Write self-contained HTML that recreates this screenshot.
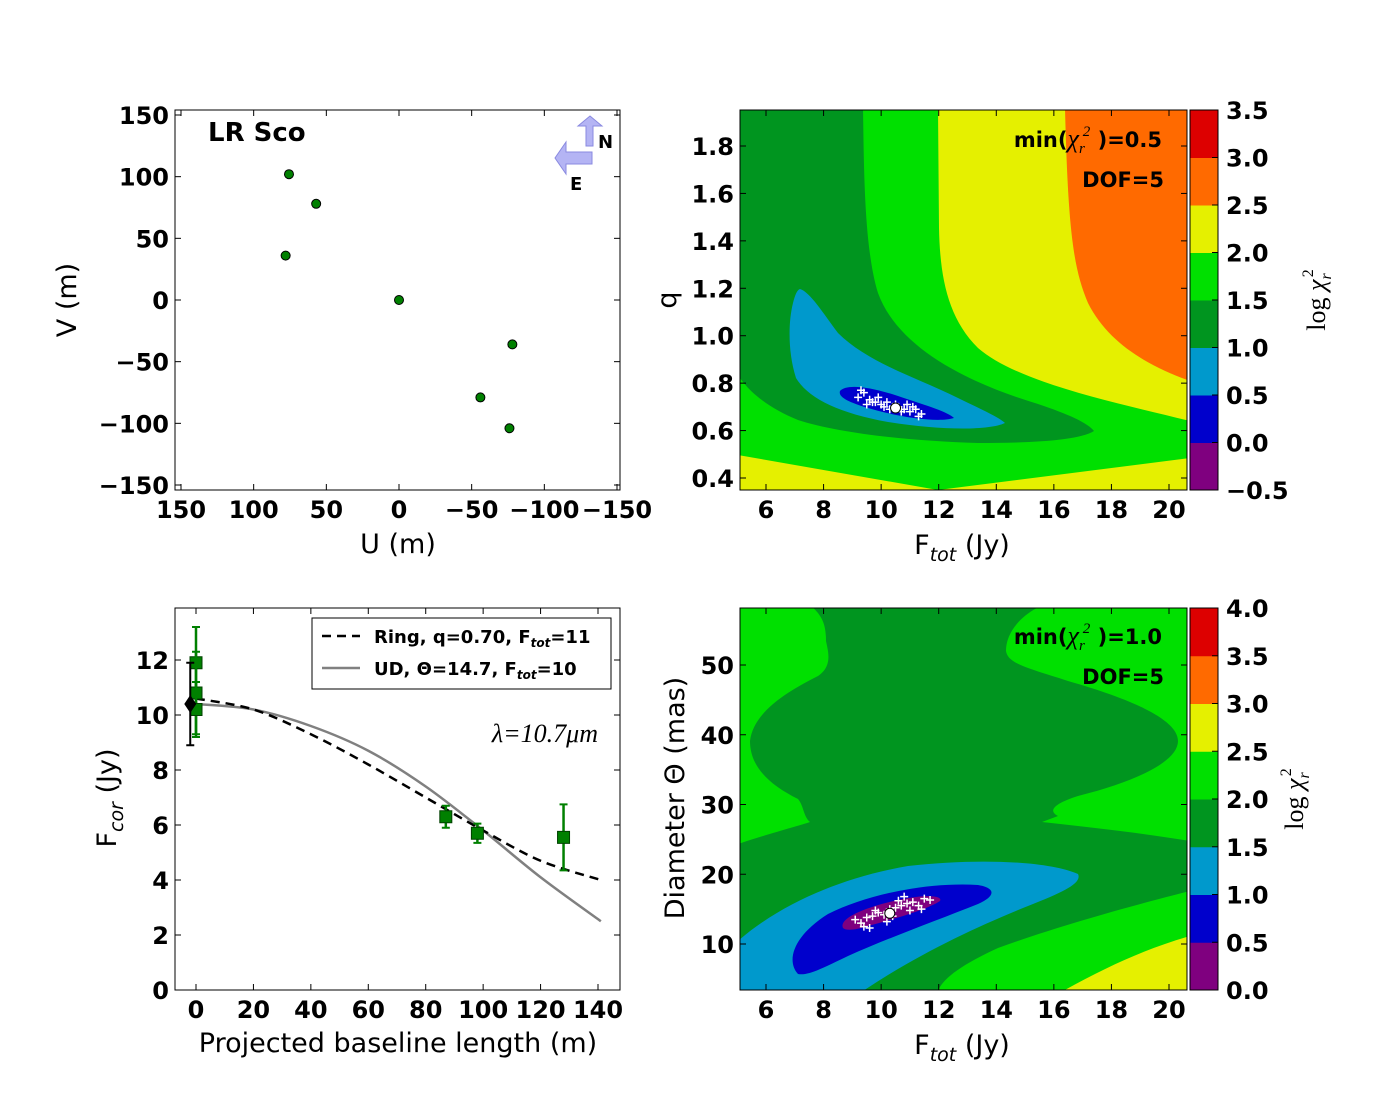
<!DOCTYPE html>
<html><head><meta charset="utf-8"><style>
body{margin:0;background:#fff}
svg text{font-family:"DejaVu Sans","Liberation Sans",sans-serif}
.tk{font-weight:bold;font-size:24px}
.lab{font-size:27px}
.serif{font-family:"Liberation Serif",serif !important}
</style></head><body>
<svg id="fig" width="1400" height="1100" xmlns="http://www.w3.org/2000/svg">
<defs>
<clipPath id="c2"><rect x="2" y="2" width="447" height="380"/></clipPath>
<clipPath id="c4"><rect x="2" y="2" width="447" height="382"/></clipPath>
<clipPath id="c3"><rect x="175" y="608" width="445" height="382"/></clipPath>
</defs>
<g transform="translate(738,108)" clip-path="url(#c2)">
<rect x="0" y="0" width="452" height="385" fill="#00e000"/>
<path fill="#e5f000" d="M200,0 L452,0 L452,313 C380,295 280,275 240,240 C210,210 202,170 201,120 Z"/>
<path fill="#ff6a00" d="M327,0 L452,0 L452,273 C410,258 370,235 350,195 C335,160 330,120 327,0 Z"/>
<path fill="#e5f000" d="M0,347 L200,382 L452,350 L452,385 L0,385 Z"/>
<path fill="#00951f" d="M0,0 L125,0 C126,60 126,140 140,185 C160,240 230,275 300,296 C330,306 350,315 356,323 C340,333 290,335 240,335 C170,333 100,325 60,312 C30,300 10,283 0,267 Z"/>
<path fill="#0099cc" d="M62,181 C72,184 85,205 100,225 C130,255 180,270 220,290 C245,302 262,310 267,315 C250,323 200,322 150,314 C100,305 70,290 58,270 C50,245 50,215 55,195 C57,187 59,182 62,181 Z"/>
<path fill="#0000cc" d="M102,283 C108,276 130,278 160,288 C190,298 210,304 216,310 C200,315 160,309 130,300 C110,294 100,289 102,283 Z"/>
</g>
<g transform="translate(738,606)" clip-path="url(#c4)">
<rect x="0" y="0" width="452" height="385" fill="#00e000"/>
<path fill="#00951f" d="M73,0 L303,0 C285,8 268,25 268,45 C270,58 290,62 330,75 C400,95 440,115 440,135 C440,155 400,175 340,190 C315,198 310,205 320,210 L304,216 C360,222 410,228 452,235 L452,285 C400,298 320,320 260,342 C225,358 205,372 200,385 L0,385 L0,238 C30,228 60,220 72,216 C65,210 66,200 60,193 C30,178 12,160 12,135 C15,110 40,90 80,70 C95,60 90,45 88,35 C88,20 85,10 73,0 Z"/>
<path fill="#e5f000" d="M452,330 C410,342 370,360 325,385 L452,385 Z"/>
<path fill="#0099cc" d="M0,335 C40,300 100,272 170,260 C240,252 310,255 340,268 C345,278 320,288 290,300 C240,320 180,348 125,385 L0,385 Z"/>
<path fill="#0000cc" d="M60,368 C48,355 55,330 90,308 C130,288 190,276 240,279 C258,282 258,290 240,298 C200,314 150,332 110,350 C85,362 70,370 60,368 Z"/>
<path fill="#7f007f" d="M105,322 C100,312 130,300 165,293 C190,288 205,290 202,295 C190,303 160,312 130,320 C118,324 108,325 105,322 Z"/>
</g>
<g id="dyn"></g>
</svg>
<script>
// ---- data ----
const uvU=[75.7,57,78,0,-78,-56,-76];
const uvV=[102,78,36,0,-36,-79,-104];
const baseM=[0,0,0,87,98,128];
const fcor=[11.9,10.8,10.2,6.3,5.7,5.55];
const fcorErr=[1.3,1.5,1.0,0.4,0.35,1.2];
const diamondM=[-2]; const diamondF=[10.4]; const diamondErr=[1.5];
const curveB=[0,20,40,60,80,100,120,141];
const ringF=[10.6,10.2,9.3,8.2,7.0,5.8,4.7,4.0];
const udF=[10.4,10.2,9.6,8.7,7.4,5.8,4.1,2.5];
const q_F=[9.2,9.4,9.6,9.8,10.0,10.2,10.4,10.6,10.8,11.0,11.2,11.4,9.5,9.9,10.3,10.7,11.1,9.3,10.1,10.9,11.3,9.7,10.5];
const q_q=[0.74,0.76,0.73,0.72,0.71,0.72,0.70,0.70,0.69,0.68,0.69,0.67,0.71,0.74,0.69,0.68,0.70,0.77,0.70,0.71,0.66,0.72,0.71];
const q_best=[10.5,0.695];
const d_F=[9.1,9.3,9.5,9.7,9.9,10.1,10.3,10.5,10.7,10.9,11.1,11.3,11.5,11.7,9.4,9.8,10.2,10.6,11.0,11.4,9.6,10.4,10.8];
const d_D=[13.5,13.0,13.8,14.0,14.5,14.2,15.0,15.2,15.5,15.8,16.0,15.5,16.5,16.3,12.5,14.8,13.2,16.2,14.8,15.0,12.3,14.0,16.8];
const d_best=[10.3,14.4];
const cbLevels1=["−0.5","0.0","0.5","1.0","1.5","2.0","2.5","3.0","3.5"];
const cbLevels2=["0.0","0.5","1.0","1.5","2.0","2.5","3.0","3.5","4.0"];
const cbColors=["#7f007f","#0000cc","#0099cc","#00951f","#00e000","#e5f000","#ff6a00","#dd0000"];
const uTicks=[150,100,50,0,-50,-100,-150];
const vTicks=[150,100,50,0,-50,-100,-150];
const fTicks=[6,8,10,12,14,16,18,20];
const qTicks=[0.4,0.6,0.8,1.0,1.2,1.4,1.6,1.8];
const bTicks=[0,20,40,60,80,100,120,140];
const fcTicks=[0,2,4,6,8,10,12];
const dTicks=[10,20,30,40,50];

const NS="http://www.w3.org/2000/svg";
const root=document.getElementById('dyn');
function mk(tag,attrs,parent,txt){const e=document.createElementNS(NS,tag);for(const k in attrs)e.setAttribute(k,attrs[k]);if(txt!==undefined)e.textContent=txt;(parent||root).appendChild(e);return e;}
function lin(d0,d1,p0,p1){return v=>p0+(v-d0)*(p1-p0)/(d1-d0);}
const fmt=v=>(v<0?"−"+Math.abs(v):String(v));

const P1={x0:175,x1:620,y0:110,y1:490};
const x1s=lin(150,-150,181,617), y1s=lin(0,150,300,115);
const P2={x0:740,x1:1187,y0:110,y1:490};
const x2s=lin(6,20,766,1169), y2s=lin(1.8,0.4,146,478);
const P3={x0:175,x1:620,y0:608,y1:990};
const x3s=lin(0,140,196,598), y3s=lin(0,12,990,660);
const P4={x0:740,x1:1187,y0:608,y1:990};
const x4s=x2s, y4s=lin(10,50,944,665);

function frame(P,xt,xs,yt,ys,fx,fy,name){
  const g=mk('g',{});
  
  
  mk('rect',{x:P.x0,y:P.y0,width:P.x1-P.x0,height:P.y1-P.y0,fill:'none',stroke:'#000','stroke-width':1},g);
  xt.forEach(v=>{const x=xs(v);
    mk('line',{x1:x,x2:x,y1:P.y1,y2:P.y1-6,stroke:'#000'},g);
    mk('line',{x1:x,x2:x,y1:P.y0,y2:P.y0+6,stroke:'#000'},g);
    const t=mk('text',{x:x,y:P.y1+28,'text-anchor':'middle',class:'tk'},g,fx(v));
    
    });
  yt.forEach(v=>{const y=ys(v);
    mk('line',{x1:P.x0,x2:P.x0+6,y1:y,y2:y,stroke:'#000'},g);
    mk('line',{x1:P.x1,x2:P.x1-6,y1:y,y2:y,stroke:'#000'},g);
    const t=mk('text',{x:P.x0-6,y:y+9,'text-anchor':'end',class:'tk'},g,fy(v));
    
    });
}
frame(P1,uTicks,x1s,vTicks,y1s,fmt,fmt,'uv-plane');
frame(P2,fTicks,x2s,qTicks,y2s,String,v=>v.toFixed(1),'q-map');
frame(P3,bTicks,x3s,fcTicks,y3s,String,String,'visibility');
frame(P4,fTicks,x4s,dTicks,y4s,String,String,'diameter-map');

function label(x,y,txt,rot,name,cls){const t=mk('text',{x:x,y:y,'text-anchor':'middle',class:cls||'lab',transform:rot?`rotate(-90 ${x} ${y})`:''});t.innerHTML=txt;
  
  return t;}
label(398,553,'U (m)',0,'x-axis-title');
label(76,300,'V (m)',1,'y-axis-title');
label(962,554,'F<tspan font-size="19" font-style="italic" dy="7">tot</tspan><tspan dy="-7"> (Jy)</tspan>',0,'x-axis-title');
label(676,300,'q',1,'y-axis-title');
label(398,1052,'Projected baseline length (m)',0,'x-axis-title');
label(116,798,'F<tspan font-size="19" font-style="italic" dy="7">cor</tspan><tspan dy="-7"> (Jy)</tspan>',1,'y-axis-title');
label(962,1054,'F<tspan font-size="19" font-style="italic" dy="7">tot</tspan><tspan dy="-7"> (Jy)</tspan>',0,'x-axis-title');
label(684,798,'Diameter Θ (mas)',1,'y-axis-title');
const t0=mk('text',{x:208,y:141,'font-size':26,'font-weight':'bold'},root,'LR Sco');



uvU.forEach((u,i)=>{const c=mk('circle',{cx:x1s(u),cy:y1s(uvV[i]),r:4.5,fill:'#008000',stroke:'#000','stroke-width':1});
  
  });
const cg=mk('g',{fill:'#b4b4f4',stroke:'#8a8ae0','stroke-width':1});


mk('path',{d:'M586,146 L586,126 L578,126 L590,116 L602,126 L593,126 L593,146 Z'},cg);
mk('path',{d:'M592,152 L566,152 L566,142 L555,158 L566,174 L566,164 L592,164 Z'},cg);
mk('text',{x:598,y:148,'font-size':18,'font-weight':'bold',fill:'#000',stroke:'none'},cg,'N');
mk('text',{x:570,y:190,'font-size':18,'font-weight':'bold',fill:'#000',stroke:'none'},cg,'E');

function crosses(Fa,Ya,xs,ys,name){Fa.forEach((f,i)=>{const x=xs(f),y=ys(Ya[i]);
  const p=mk('path',{d:`M${x-4},${y}h8M${x},${y-4}v8`,stroke:'#fff','stroke-width':1.5});
  
  });}
crosses(q_F,q_q,x2s,y2s,'mc-sample');
crosses(d_F,d_D,x4s,y4s,'mc-sample');
let bc=mk('circle',{cx:x2s(q_best[0]),cy:y2s(q_best[1]),r:5,fill:'#fff',stroke:'#000'});


bc=mk('circle',{cx:x4s(d_best[0]),cy:y4s(d_best[1]),r:5,fill:'#fff',stroke:'#000'});



function ann(x,y,txt,name){const t=mk('text',{x:x,y:y,'text-anchor':'end','font-size':21,'font-weight':'bold'});t.innerHTML=txt;
  
  }
const chi='<tspan class="serif" font-style="italic" font-weight="normal" font-size="26">χ<tspan font-size="15" dy="6">r</tspan><tspan font-size="15" dx="-2" dy="-17">2</tspan></tspan><tspan dy="11"> )=';
ann(1162,147,'min('+chi+'0.5</tspan>','min-chi2-label');
ann(1164,187,'DOF=5','dof-label');
ann(1162,644,'min('+chi+'1.0</tspan>','min-chi2-label');
ann(1164,684,'DOF=5','dof-label');

function cbar(y0,y1,levels,name,ly){const g=mk('g',{});
  
  
  const h=(y1-y0)/cbColors.length;
  cbColors.forEach((c,i)=>mk('rect',{x:1190,y:y1-(i+1)*h,width:28,height:h+0.5,fill:c},g));
  mk('rect',{x:1190,y:y0,width:28,height:y1-y0,fill:'none',stroke:'#000'},g);
  levels.forEach((l,i)=>{const y=y1-i*h;
    mk('line',{x1:1212,x2:1218,y1:y,y2:y,stroke:'#000'},g);
    mk('text',{x:1226,y:y+9,class:'tk'},g,l);});
  const t=mk('text',{x:ly,y:(y0+y1)/2,'text-anchor':'middle',class:'serif','font-size':26,transform:`rotate(-90 ${ly} ${(y0+y1)/2})`},g);
  t.innerHTML='log <tspan font-style="italic">χ</tspan><tspan font-size="16" font-style="italic" dy="6">r</tspan><tspan font-size="16" dx="-4" dy="-18">2</tspan>';}
cbar(110,490,cbLevels1,'colorbar-q',1325);
cbar(608,990,cbLevels2,'colorbar-diameter',1303);

const cg3=mk('g',{'clip-path':'url(#c3)'});
function smooth(pts){let d='M'+pts[0][0]+','+pts[0][1];
  for(let i=0;i<pts.length-1;i++){const p0=pts[Math.max(i-1,0)],p1=pts[i],p2=pts[i+1],p3=pts[Math.min(i+2,pts.length-1)];
    d+=`C${p1[0]+(p2[0]-p0[0])/6},${p1[1]+(p2[1]-p0[1])/6} ${p2[0]-(p3[0]-p1[0])/6},${p2[1]-(p3[1]-p1[1])/6} ${p2[0]},${p2[1]}`;}
  return d;}
function curve(F,attrs,name){const d=smooth(curveB.map((b,i)=>[x3s(b),y3s(F[i])]));
  const p=mk('path',Object.assign({d:d,fill:'none'},attrs),cg3);
  
  }
curve(udF,{stroke:'#808080','stroke-width':2.5},'ud-model-curve');
curve(ringF,{stroke:'#000','stroke-width':2.5,'stroke-dasharray':'9,6'},'ring-model-curve');
baseM.forEach((b,i)=>{const x=x3s(b),y=y3s(fcor[i]),e=fcorErr[i];
  const g=mk('g',{},cg3);
  
  
  mk('line',{x1:x,x2:x,y1:y3s(fcor[i]-e),y2:y3s(fcor[i]+e),stroke:'#008000','stroke-width':2.5},g);
  mk('line',{x1:x-4,x2:x+4,y1:y3s(fcor[i]-e),y2:y3s(fcor[i]-e),stroke:'#008000','stroke-width':2},g);
  mk('line',{x1:x-4,x2:x+4,y1:y3s(fcor[i]+e),y2:y3s(fcor[i]+e),stroke:'#008000','stroke-width':2},g);
  mk('rect',{x:x-6,y:y-6,width:12,height:12,fill:'#008000',stroke:'#004000'},g);});
diamondM.forEach((b,i)=>{const x=x3s(b),y=y3s(diamondF[i]),e=diamondErr[i];
  const g=mk('g',{},cg3);
  
  
  mk('line',{x1:x,x2:x,y1:y3s(diamondF[i]-e),y2:y3s(diamondF[i]+e),stroke:'#000','stroke-width':2},g);
  mk('line',{x1:x-4,x2:x+4,y1:y3s(diamondF[i]-e),y2:y3s(diamondF[i]-e),stroke:'#000','stroke-width':2},g);
  mk('line',{x1:x-4,x2:x+4,y1:y3s(diamondF[i]+e),y2:y3s(diamondF[i]+e),stroke:'#000','stroke-width':2},g);
  mk('path',{d:`M${x},${y-9}L${x+6},${y}L${x},${y+9}L${x-6},${y}Z`,fill:'#000'},g);});
const lg=mk('g',{});


mk('rect',{x:312,y:618,width:299,height:71,fill:'#fff',stroke:'#000'},lg);
mk('line',{x1:322,x2:360,y1:636,y2:636,stroke:'#000','stroke-width':2.5,'stroke-dasharray':'9,6'},lg);
mk('line',{x1:322,x2:360,y1:668,y2:668,stroke:'#808080','stroke-width':2.5},lg);
let lt=mk('text',{x:374,y:643,'font-size':18,'font-weight':'bold'},lg);
lt.innerHTML='Ring, q=0.70, F<tspan font-size="12" font-style="italic" dy="4">tot</tspan><tspan dy="-4">=11</tspan>';
lt=mk('text',{x:374,y:675,'font-size':18,'font-weight':'bold'},lg);
lt.innerHTML='UD, Θ=14.7, F<tspan font-size="12" font-style="italic" dy="4">tot</tspan><tspan dy="-4">=10</tspan>';
const wl=mk('text',{x:598,y:742,'text-anchor':'end',class:'serif','font-size':26,'font-style':'italic'},root,'λ=10.7μm');


</script>
</body></html>
